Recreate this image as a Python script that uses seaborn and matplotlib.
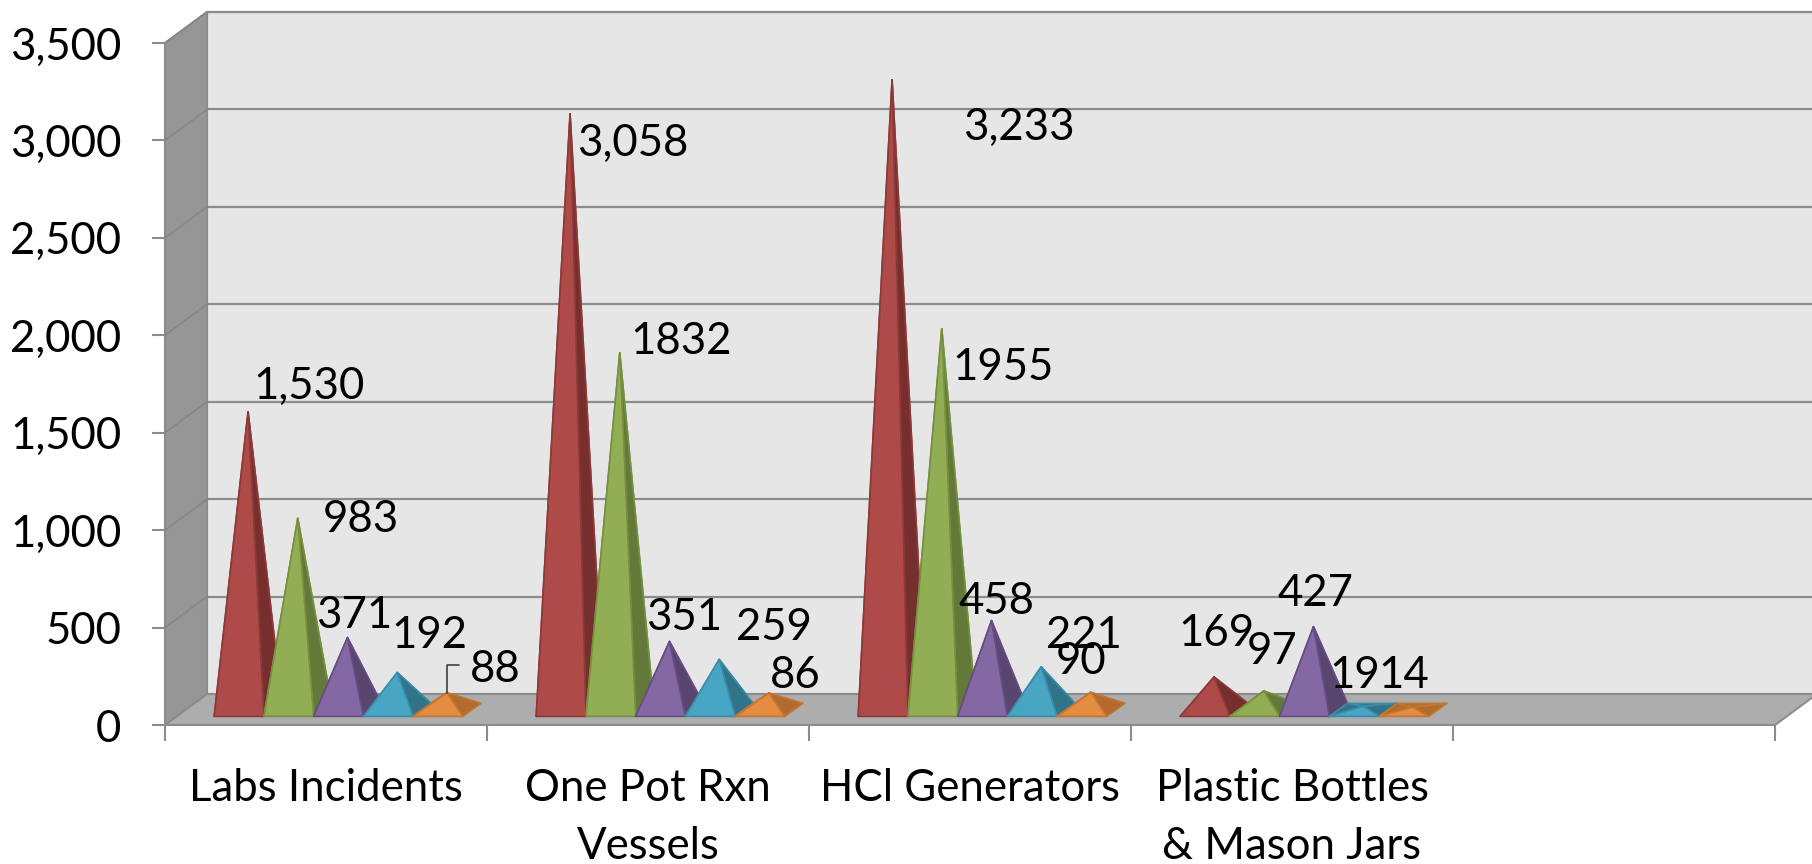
import matplotlib
matplotlib.use("Agg")
import matplotlib.pyplot as plt
import pandas as pd
import seaborn as sns

# --- data ---
categories = ["Labs Incidents", "One Pot Rxn\nVessels", "HCl Generators", "Plastic Bottles\n& Mason Jars"]
red_values = [1530, 3058, 3233, 169]
green_values = [983, 1832, 1955, 97]
purple_values = [371, 351, 458, 427]
teal_values = [192, 259, 221, 19]
orange_values = [88, 86, 90, 14]
red_labels = ["1,530", "3,058", "3,233", "169"]
green_labels = ["983", "1832", "1955", "97"]
purple_labels = ["371", "351", "458", "427"]
teal_labels = ["192", "259", "221", "19"]
orange_labels = ["88", "86", "90", "14"]
y_ticks = [0, 500, 1000, 1500, 2000, 2500, 3000, 3500]

# --- colours: front face, shaded face ---
front_colors = ["#AE4A48", "#92AE55", "#8468A3", "#48A6C4", "#E48C3F"]
shade_colors = ["#772F2E", "#63793A", "#58466F", "#317488", "#B26B2F"]
edge_colors = ["#8C3A38", "#76903F", "#664C85", "#3A8CA8", "#C47530"]

# where each data label sits, in pixels of the 1812x864 picture
label_px = [
    [(309, 386), (361, 520), (354, 616), (429, 635), (495, 669)],
    [(633, 143), (681, 341), (684, 617), (774, 627), (795, 675)],
    [(1019, 127), (1003, 368), (996, 601), (1084, 636), (1081, 662)],
    [(1216, 634), (1272, 651), (1315, 593), (1355, 676), (1404, 676)],
]

sns.set_style("white")
plt.rcParams["font.family"] = ["Lato", "DejaVu Sans"]

W, H = 1812, 864
fig = plt.figure(figsize=(W / 100, H / 100), dpi=100)
# front plane of the 3d box
left, right, top, bottom = 165, 1775, 43, 725
ax = fig.add_axes([left / W, 1 - bottom / H, (right - left) / W, (bottom - top) / H])

df = pd.DataFrame({
    "category": categories * 5,
    "series": ["red"] * 4 + ["green"] * 4 + ["purple"] * 4 + ["teal"] * 4 + ["orange"] * 4,
    "value": red_values + green_values + purple_values + teal_values + orange_values,
})
order = categories + [""]
series_order = ["red", "green", "purple", "teal", "orange"]
sns.barplot(data=df, x="category", y="value", hue="series", order=order, hue_order=series_order,
            palette=front_colors, width=0.772, gap=0, legend=False, errorbar=None, ax=ax)

ax.set_xlim(-0.5, 4.5)
ax.set_ylim(0, 3500)
ax.set_xlabel("")
ax.set_ylabel("")
ax.patch.set_visible(False)
sns.despine(ax=ax, left=True, bottom=True)

# pixel sizes expressed in data units
px = 5 / (right - left)
py = 3500 / (bottom - top)
wall_dx, wall_dy = 42 * px, 31 * py
base_dx, base_dy = 18 * px, 13 * py
shift_x, shift_y = 12.5 * px, 8.6 * py

grid_color = "#8C8C8C"

# --- walls and floor ---
ax.fill([-0.5 + wall_dx, 4.5 + wall_dx, 4.5 + wall_dx, -0.5 + wall_dx],
        [wall_dy, wall_dy, 3500 + wall_dy, 3500 + wall_dy],
        fc="#E6E6E6", ec=grid_color, lw=1.5, clip_on=False, zorder=0.5)
ax.fill([-0.5, -0.5 + wall_dx, -0.5 + wall_dx, -0.5],
        [0, wall_dy, 3500 + wall_dy, 3500],
        fc="#969696", ec="#8C8C8C", lw=1.5, clip_on=False, zorder=0.6)
ax.fill([-0.5, 4.5, 4.5 + wall_dx, -0.5 + wall_dx],
        [0, 0, wall_dy, wall_dy],
        fc="#ADADAD", ec="#8C8C8C", lw=1.5, clip_on=False, zorder=0.6)
for v in y_ticks[1:]:
    ax.plot([-0.5 + wall_dx, 4.5 + wall_dx], [v + wall_dy, v + wall_dy], color=grid_color, lw=1.6,
            clip_on=False, zorder=0.7, solid_capstyle="butt")
    ax.plot([-0.5, -0.5 + wall_dx], [v, v + wall_dy], color="#868686", lw=1.2, clip_on=False, zorder=0.7)

# --- turn every bar into a pyramid ---
z = 2
for s, bars in enumerate(ax.containers):
    front = front_colors[s]
    shade = shade_colors[s]
    edge = edge_colors[s]
    for bar in bars:
        bar.set_visible(False)
        h = bar.get_height()
        if not h > 0:
            continue
        x0 = bar.get_x() + shift_x
        x1 = x0 + bar.get_width()
        y0 = shift_y
        ax_apex = (x0 + x1) / 2 + base_dx / 2
        ay_apex = y0 + base_dy / 2 + h
        faces = [
            ([x0 + base_dx, x1 + base_dx, ax_apex], [y0 + base_dy, y0 + base_dy, ay_apex], shade),
            ([x0, x0 + base_dx, ax_apex], [y0, y0 + base_dy, ay_apex], shade),
            ([x1, x1 + base_dx, ax_apex], [y0, y0 + base_dy, ay_apex], shade),
            ([x0, x1, ax_apex], [y0, y0, ay_apex], front),
        ]
        for fx, fy, col in faces:
            ax.fill(fx, fy, fc=col, ec=edge, lw=1.2, joinstyle="round", zorder=z)
            z += 0.01

# --- ticks ---
font_size = 31.5
ax.set_yticks(y_ticks)
ax.set_yticklabels([f"{v:,}" for v in y_ticks])
ax.tick_params(axis="y", left=True, length=9.4, width=1.5, color=grid_color, pad=22, labelsize=font_size, labelcolor="black")
ax.set_xticks(range(5))
ax.set_xticklabels(order, linespacing=1.5)
ax.tick_params(axis="x", which="major", bottom=False, length=0, pad=31, labelsize=font_size, labelcolor="black")
ax.set_xticks([i - 0.5 for i in range(6)], minor=True)
ax.tick_params(axis="x", which="minor", bottom=True, length=11.5, width=1.5, color=grid_color)
for t in ax.get_xticklabels():
    t.set_verticalalignment("top")

# --- data labels ---
series_labels = [red_labels, green_labels, purple_labels, teal_labels, orange_labels]
for c, row in enumerate(label_px):
    for s, (lx, ly) in enumerate(row):
        fig.text(lx / W, 1 - ly / H, series_labels[s][c], fontsize=font_size, color="black",
                 ha="center", va="center", zorder=10)

# leader line of the small orange label in the first group
first_orange = ax.containers[4][0]
ax.annotate("", xy=(first_orange.get_x() + first_orange.get_width() / 2 + shift_x + base_dx / 2,
                    orange_values[0] + shift_y + base_dy / 2),
            xytext=(459 / W, 1 - 665 / H), textcoords="figure fraction",
            arrowprops=dict(arrowstyle="-", color="#404040", lw=1.2, shrinkA=0, shrinkB=0,
                            connectionstyle="angle,angleA=0,angleB=90,rad=0"), zorder=9)

fig.savefig("out.png", dpi=100)
